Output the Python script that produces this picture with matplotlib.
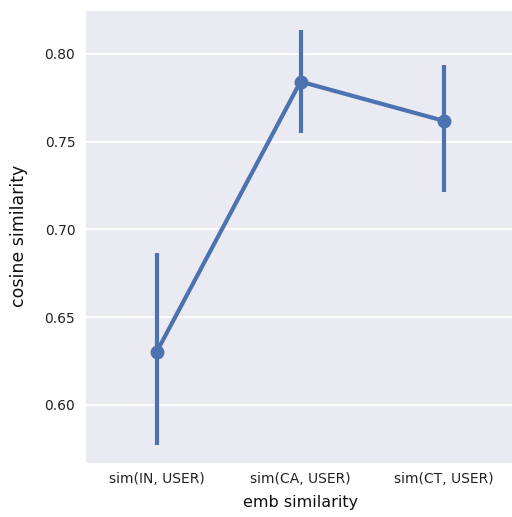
import matplotlib
matplotlib.use("Agg")
import matplotlib.pyplot as plt
import seaborn as sns

# values
categories = ["sim(IN, USER)", "sim(CA, USER)", "sim(CT, USER)"]
means = [0.6304, 0.7842, 0.7618]
ci_low = [0.5772, 0.7548, 0.7216]
ci_high = [0.6864, 0.8137, 0.7937]

sns.set_style("darkgrid")
plt.rcParams["font.family"] = ["DejaVu Sans"]

color = "#4c72b0"

fig = plt.figure(figsize=(5.12, 5.17), dpi=100)
ax = fig.add_axes([85 / 512, 1 - 462.7 / 517, 431 / 512, 452.7 / 517])

xs = list(range(len(categories)))
ax.vlines(xs, ci_low, ci_high, color=color, linewidth=3)
ax.plot(xs, means, color=color, linewidth=3, marker="o", markersize=9)

ax.set_xlim(-0.5, 2.5)
ax.set_ylim(0.5671, 0.825)
ax.set_yticks([0.60, 0.65, 0.70, 0.75, 0.80])
ax.set_xticks(xs)
ax.set_xticklabels(categories, color="#222222")
ax.tick_params(labelsize=10, labelcolor="#222222")
ax.grid(axis="x", visible=False)
ax.grid(axis="y", linewidth=1.3)

ax.set_xlabel("emb similarity", fontsize=11.5, labelpad=6, color="#111111")
ax.set_ylabel("cosine similarity", fontsize=12.5, labelpad=12, color="#111111")

fig.savefig("out.png", dpi=100)
